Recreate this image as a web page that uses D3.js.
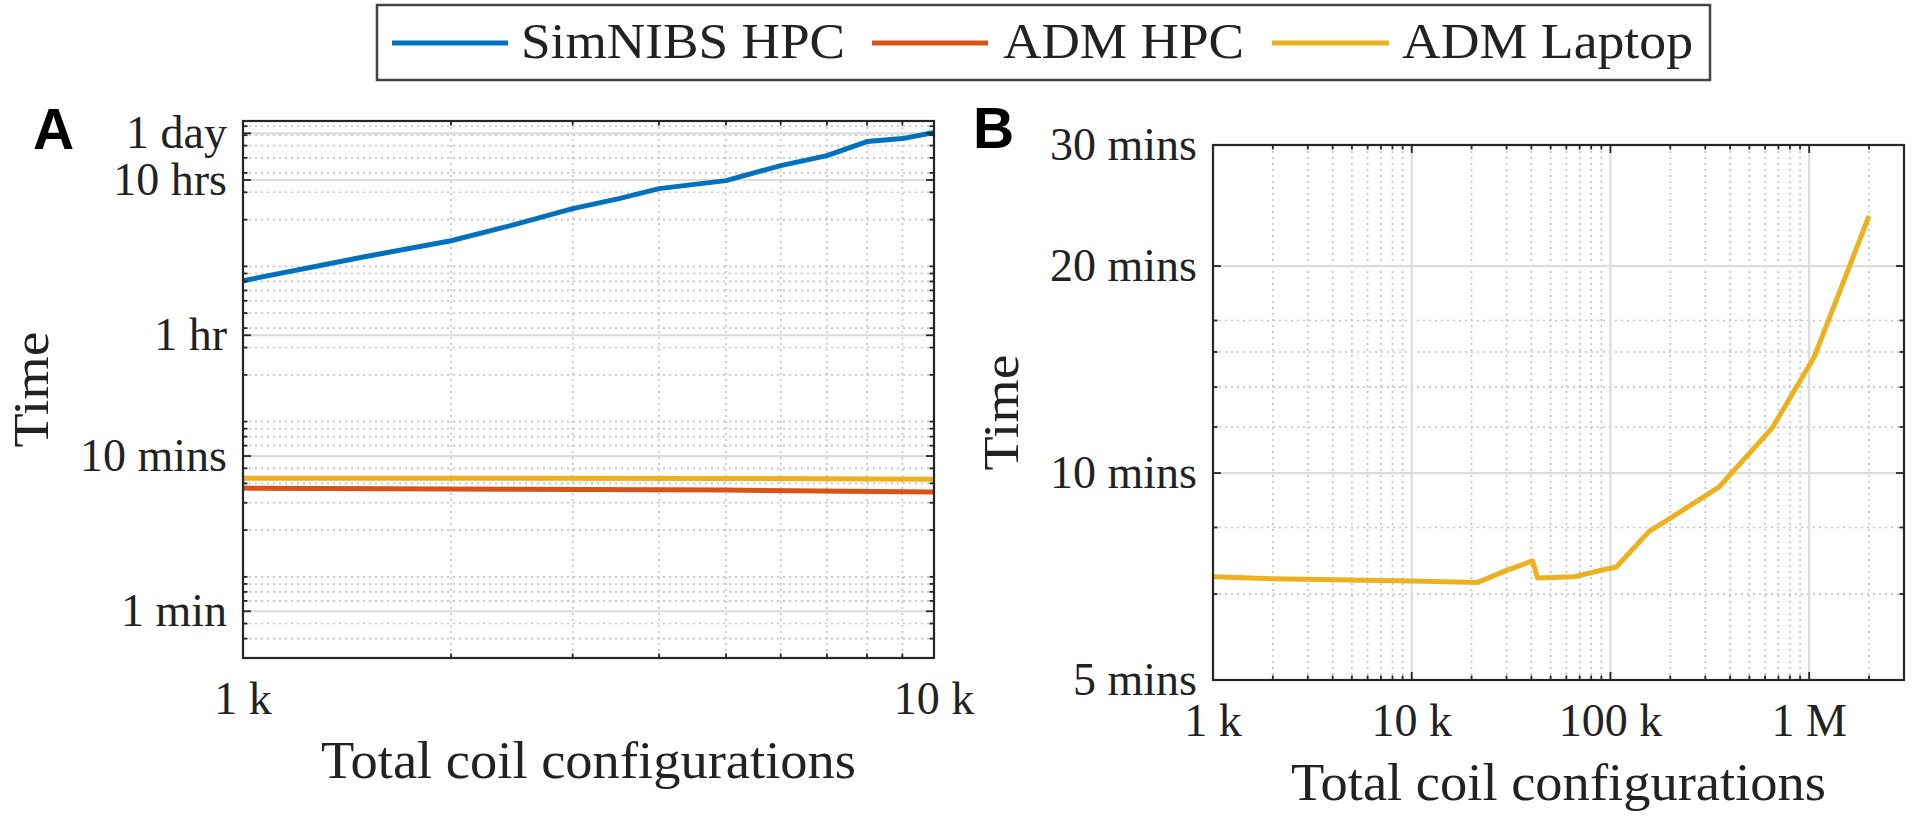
<!DOCTYPE html>
<html><head><meta charset="utf-8">
<script src="https://cdn.jsdelivr.net/npm/d3@7"></script>
<style>body{margin:0;background:#fff} svg{display:block}</style>
</head><body><svg id="c" width="1913" height="817"></svg>
<script>
// ---------- data (times in seconds) ----------
const seriesNames  = ["SimNIBS HPC", "ADM HPC", "ADM Laptop"];
const seriesColors = ["#0072BD", "#D95319", "#EDB120"];

// Panel A
const aSimnibsX   = [1000, 1500, 2000, 2500, 3000, 3500, 4000, 5000, 6000, 7000, 8000, 9000, 10000];
const aSimnibsY   = [8080, 11540, 14630, 18840, 23540, 27300, 31680, 35680, 44590, 51700, 63650, 66540, 72770];
const aAdmHpcX    = [1000, 5000, 10000];
const aAdmHpcY    = [373, 362, 352];
const aAdmLaptopX = [1000, 5000, 10000];
const aAdmLaptopY = [432, 430, 426];
const aXDomain = [1000, 10000];
const aYDomain = [30, 86400];
const aXTicks = [1000, 10000];
const aXTickLabels = ["1 k", "10 k"];
const aYTicks = [60, 600, 3600, 36000, 72000];
const aYTickLabels = ["1 min", "10 mins", "1 hr", "10 hrs", "1 day"];

// Panel B
const bLaptopX = [1000, 2000, 10000, 21500, 30000, 40500, 43000, 66000, 83000, 107000, 157000, 205000, 353000, 652000, 1060000, 2000000];
const bLaptopY = [424, 421, 418, 416, 433, 447, 422, 424, 431, 438, 494, 518, 573, 698, 885, 1419];
const bXDomain = [1000, 3000000];
const bYDomain = [300, 1800];
const bXTicks = [1000, 10000, 100000, 1000000];
const bXTickLabels = ["1 k", "10 k", "100 k", "1 M"];
const bYTicks = [300, 600, 1200, 1800];
const bYTickLabels = ["5 mins", "10 mins", "20 mins", "30 mins"];

const xLabel = "Total coil configurations";
const yLabel = "Time";

// ---------- drawing ----------
const svg = d3.select("#c");
svg.append("rect").attr("width", 1913).attr("height", 817).attr("fill", "#fff");
const SERIF = "'Liberation Serif', 'Times New Roman', serif";
const AXC = "#262626";

function minorVals(dom) {
  const out = [];
  const k0 = Math.floor(Math.log10(dom[0])), k1 = Math.ceil(Math.log10(dom[1]));
  for (let k = k0; k <= k1; k++) for (let m = 1; m <= 9; m++) {
    const v = m * Math.pow(10, k);
    if (v > dom[0] * 1.0001 && v < dom[1] * 0.9999) out.push(v);
  }
  return out;
}

function panel(opt) {
  const {L, R, T, B, xDom, yDom, xTicks, xLabels, yTicks, yLabels, series, letter, letterX, letterY} = opt;
  const x = d3.scaleLog().domain(xDom).range([L, R]);
  const y = d3.scaleLog().domain(yDom).range([B, T]);
  const g = svg.append("g");
  const near = (a, arr) => arr.some(t => Math.abs(Math.log10(a) - Math.log10(t)) < 1e-4);

  const xMin = minorVals(xDom), yMin = minorVals(yDom);
  // minor grid (dotted)
  g.selectAll(".mgx").data(xMin.filter(v => !near(v, xTicks))).join("line")
    .attr("x1", d => x(d)).attr("x2", d => x(d)).attr("y1", T).attr("y2", B)
    .attr("stroke", "#c4c4c4").attr("stroke-width", 1.6).attr("stroke-dasharray", "2,4");
  g.selectAll(".mgy").data(yMin.filter(v => !near(v, yTicks))).join("line")
    .attr("y1", d => y(d)).attr("y2", d => y(d)).attr("x1", L).attr("x2", R)
    .attr("stroke", "#c4c4c4").attr("stroke-width", 1.6).attr("stroke-dasharray", "2,4");
  // major grid (solid)
  g.selectAll(".gx").data(xTicks).join("line")
    .attr("x1", d => x(d)).attr("x2", d => x(d)).attr("y1", T).attr("y2", B)
    .attr("stroke", "#dcdcdc").attr("stroke-width", 2.2);
  g.selectAll(".gy").data(yTicks).join("line")
    .attr("y1", d => y(d)).attr("y2", d => y(d)).attr("x1", L).attr("x2", R)
    .attr("stroke", "#dcdcdc").attr("stroke-width", 2.2);

  // data lines
  series.forEach(s => {
    const pts = s.xs.map((v, i) => [v, s.ys[i]]);
    g.append("path").datum(pts)
      .attr("d", d3.line().x(d => x(d[0])).y(d => y(d[1])))
      .attr("fill", "none").attr("stroke", s.color).attr("stroke-width", 5)
      .attr("stroke-linejoin", "round");
  });

  // ticks (inward, all four sides)
  const tickMaj = 8, tickMin = 4.5;
  const xt = xTicks.map(v => [v, tickMaj]).concat(xMin.filter(v => !near(v, xTicks)).map(v => [v, tickMin]));
  const yt = yTicks.map(v => [v, tickMaj]).concat(yMin.filter(v => !near(v, yTicks)).map(v => [v, tickMin]));
  xt.forEach(([v, len]) => {
    g.append("line").attr("x1", x(v)).attr("x2", x(v)).attr("y1", B).attr("y2", B - len).attr("stroke", AXC).attr("stroke-width", 1.8);
    g.append("line").attr("x1", x(v)).attr("x2", x(v)).attr("y1", T).attr("y2", T + len).attr("stroke", AXC).attr("stroke-width", 1.8);
  });
  yt.forEach(([v, len]) => {
    g.append("line").attr("y1", y(v)).attr("y2", y(v)).attr("x1", L).attr("x2", L + len).attr("stroke", AXC).attr("stroke-width", 1.8);
    g.append("line").attr("y1", y(v)).attr("y2", y(v)).attr("x1", R).attr("x2", R - len).attr("stroke", AXC).attr("stroke-width", 1.8);
  });

  // box
  g.append("rect").attr("x", L).attr("y", T).attr("width", R - L).attr("height", B - T)
    .attr("fill", "none").attr("stroke", AXC).attr("stroke-width", 2.2);

  // tick labels
  const fs = 46;
  g.selectAll(".xl").data(xTicks).join("text")
    .attr("x", d => x(d)).attr("y", B + 56).attr("text-anchor", "middle")
    .attr("font-family", SERIF).attr("font-size", fs).attr("fill", "#222")
    .text((d, i) => xLabels[i]);
  g.selectAll(".yl").data(yTicks).join("text")
    .attr("x", L - 16).attr("y", d => y(d) + fs * 0.33).attr("text-anchor", "end")
    .attr("font-family", SERIF).attr("font-size", fs).attr("fill", "#222")
    .text((d, i) => yLabels[i]);

  // axis titles
  g.append("text").attr("x", (L + R) / 2).attr("y", B + 120).attr("text-anchor", "middle")
    .attr("font-family", SERIF).attr("font-size", 52).attr("fill", "#222")
    .attr("textLength", 535).attr("lengthAdjust", "spacingAndGlyphs").text(xLabel);
  g.append("text").attr("transform", `translate(${L - 195},${(T + B) / 2}) rotate(-90)`)
    .attr("text-anchor", "middle").attr("font-family", SERIF).attr("font-size", 50).attr("fill", "#222")
    .attr("textLength", 116).attr("lengthAdjust", "spacingAndGlyphs").text(yLabel);

  // panel letter
  svg.append("text").attr("x", letterX).attr("y", letterY)
    .attr("font-family", "'Liberation Sans', Arial, sans-serif").attr("font-weight", "bold")
    .attr("font-size", 57).attr("fill", "#000").text(letter);
}

panel({
  L: 243, R: 934, T: 121, B: 658, xDom: aXDomain, yDom: aYDomain,
  xTicks: aXTicks, xLabels: aXTickLabels, yTicks: aYTicks, yLabels: aYTickLabels,
  series: [
    {xs: aSimnibsX, ys: aSimnibsY, color: seriesColors[0]},
    {xs: aAdmHpcX, ys: aAdmHpcY, color: seriesColors[1]},
    {xs: aAdmLaptopX, ys: aAdmLaptopY, color: seriesColors[2]}
  ],
  letter: "A", letterX: 33, letterY: 149
});
panel({
  L: 1213, R: 1904, T: 145, B: 680, xDom: bXDomain, yDom: bYDomain,
  xTicks: bXTicks, xLabels: bXTickLabels, yTicks: bYTicks, yLabels: bYTickLabels,
  series: [{xs: bLaptopX, ys: bLaptopY, color: seriesColors[2]}],
  letter: "B", letterX: 973, letterY: 148
});

// legend
const lg = svg.append("g");
lg.append("rect").attr("x", 377).attr("y", 5).attr("width", 1333).attr("height", 75)
  .attr("fill", "#fff").attr("stroke", "#444").attr("stroke-width", 2.5);
const legLines = [[392, 508], [872, 988], [1272, 1389]];
const legTextX = [521, 1003, 1402];
const legTextW = [324, 241, 291];
seriesNames.forEach((n, i) => {
  lg.append("line").attr("x1", legLines[i][0]).attr("x2", legLines[i][1]).attr("y1", 43).attr("y2", 43)
    .attr("stroke", seriesColors[i]).attr("stroke-width", 5);
  lg.append("text").attr("x", legTextX[i]).attr("y", 58)
    .attr("font-family", SERIF).attr("font-size", 51).attr("fill", "#222")
    .attr("textLength", legTextW[i]).attr("lengthAdjust", "spacingAndGlyphs").text(n);
});
</script></body></html>
